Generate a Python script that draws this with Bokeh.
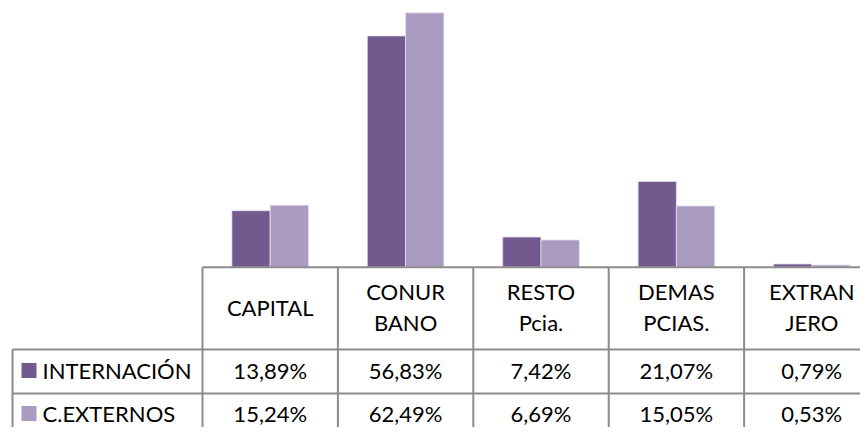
from bokeh.plotting import figure
from bokeh.models import Range1d
from bokeh.core.properties import value
from bokeh.embed import file_html
from bokeh.resources import INLINE

# ---- data ----
categories = ["CAPITAL", "CONUR\nBANO", "RESTO\nPcia.", "DEMAS\nPCIAS.", "EXTRAN\nJERO"]
series_names = ["INTERNACIÓN", "C.EXTERNOS"]
internacion = [13.89, 56.83, 7.42, 21.07, 0.79]
externos = [15.24, 62.49, 6.69, 15.05, 0.53]
colors = ["#725A8F", "#AA9CC0"]

# ---- layout (screen pixel geometry of the Excel-style chart) ----
W, H = 860, 427
ORIG = 0
X0 = 202.0          # screen x of first category boundary
CW = 135.4          # category width in px
BASE = 266.7        # screen y of bar baseline
PPU = 4.07          # px per percent
FONT = "Lato"

def sx(px):  # screen x -> data x
    return (px - X0) / CW

def sy(py):  # screen y -> data y
    return (BASE - py) / PPU

p = figure(width=W, height=H, output_backend="svg", toolbar_location=None,
           x_range=Range1d(sx(ORIG), sx(ORIG + W)),
           y_range=Range1d(sy(ORIG + H), sy(ORIG)),
           min_border=0, outline_line_color=None)
p.axis.visible = False
p.grid.visible = False
p.background_fill_color = "white"
p.border_fill_color = "white"

n = len(categories)
xs = [i + 0.5 for i in range(n)]
bw = 0.283
p.vbar(x=[x - bw / 2 for x in xs], top=internacion, width=bw, bottom=0,
       fill_color=colors[0], line_color="#E6E0EE", line_width=0.8)
p.vbar(x=[x + bw / 2 for x in xs], top=externos, width=bw, bottom=0,
       fill_color=colors[1], line_color="#E6E0EE", line_width=0.8)

# ---- table grid ----
gray = "#8C8C8C"
row_tops = [266.7, 349.0, 393.0, 437.0]
left_legend = 12.0
xr = sx(ORIG + W) + 0.2
p.segment(x0=[0], y0=[sy(row_tops[0])], x1=[xr], y1=[sy(row_tops[0])], line_color=gray, line_width=2)
for ry in row_tops[1:]:
    p.segment(x0=[sx(left_legend)], y0=[sy(ry)], x1=[xr], y1=[sy(ry)], line_color=gray, line_width=2)
for i in range(n + 1):
    p.segment(x0=[i], y0=[sy(row_tops[0])], x1=[i], y1=[sy(row_tops[-1])], line_color=gray, line_width=2)
p.segment(x0=[sx(left_legend)], y0=[sy(row_tops[1])], x1=[sx(left_legend)], y1=[sy(row_tops[-1])],
          line_color=gray, line_width=2)

# ---- header labels ----
fs = "22px"
hx, hy, ht = [], [], []
line_gap = 31.0
hc = (row_tops[0] + row_tops[1]) / 2 - 1
for i, lab in enumerate(categories):
    parts = lab.split("\n")
    k = len(parts)
    for j, part in enumerate(parts):
        hx.append(xs[i])
        hy.append(sy(hc + (j - (k - 1) / 2) * line_gap))
        ht.append(part)
p.text(x=hx, y=hy, text=ht, text_font=value(FONT), text_font_size=fs,
       text_align="center", text_baseline="middle", text_color="black")

# ---- values ----
def fmt(v):
    return f"{v:.2f}".replace(".", ",") + "%"

row_centers = [369.5, 412.5]
for r, vals in enumerate([internacion, externos]):
    cy = sy(row_centers[r])
    p.text(x=xs, y=[cy] * n, text=[fmt(v) for v in vals], text_font=value(FONT),
           text_font_size=fs, text_align="center", text_baseline="middle", text_color="black")
    p.rect(x=[sx(28.5)], y=[sy(row_centers[r] + 0.5)], width=15 / CW, height=15 / PPU,
           fill_color=colors[r], line_color=None)
    p.text(x=[sx(42)], y=[cy], text=[series_names[r]], text_font=value(FONT), text_font_size=fs,
           text_align="left", text_baseline="middle", text_color="black")

open("out.html", "w").write(file_html(p, INLINE))
